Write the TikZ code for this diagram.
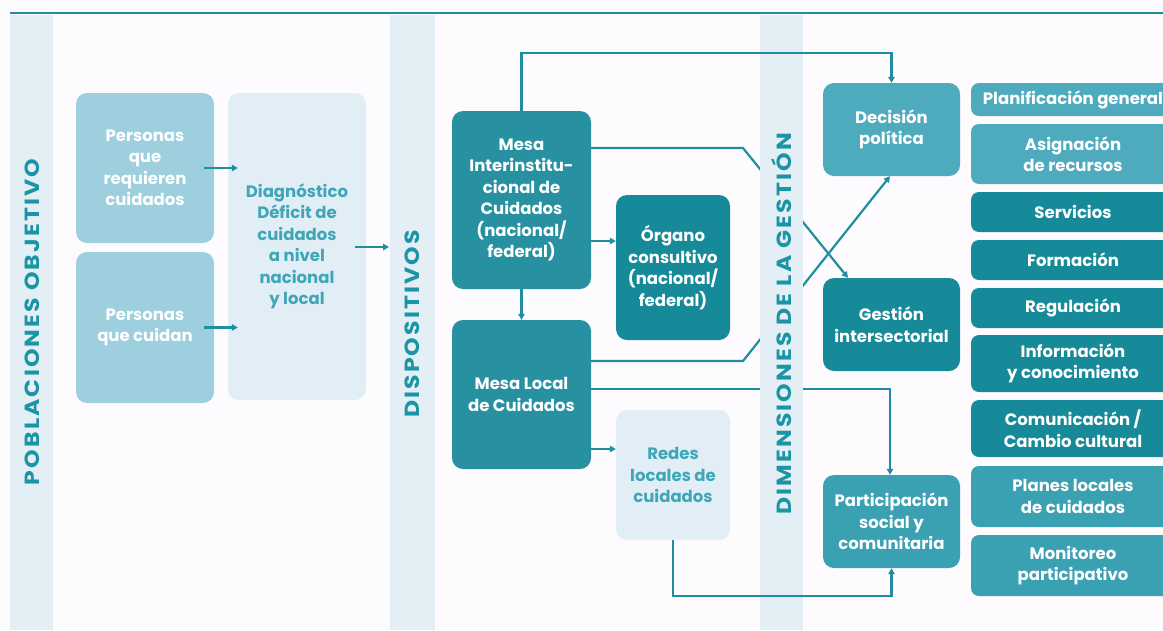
\documentclass[tikz,border=0pt]{standalone}
\usepackage{fontspec}
\usepackage{graphicx}
\setmainfont{Poppins}
\usetikzlibrary{arrows.meta}
\pgfdeclarelayer{bg}
\pgfdeclarelayer{hidden}
\pgfdeclarelayer{band}
\pgfsetlayers{bg,hidden,band,main}
\definecolor{bgwhite}{HTML}{FDFBFD}
\definecolor{bandcol}{HTML}{E4EEF5}
\definecolor{lineteal}{HTML}{1F8FA0}
\definecolor{labteal}{HTML}{1B95A6}
\definecolor{lightblue}{HTML}{9DCFDE}
\definecolor{paleblue}{HTML}{E1EEF5}
\definecolor{paletext}{HTML}{3FA6B8}
\definecolor{mesacol}{HTML}{2791A2}
\definecolor{darkteal}{HTML}{178A99}
\definecolor{midteal}{HTML}{4EABBE}
\definecolor{partteal}{HTML}{3AA1B3}
\newcommand{\vlab}[1]{\scalebox{1.15}[1]{\addfontfeature{LetterSpace=9}#1}}
\tikzset{
  box/.style={rounded corners=11pt, align=center, inner sep=0pt, text=white,
    font=\fontsize{16.5}{21.5}\selectfont\bfseries},
  smallbox/.style={box, rounded corners=8pt, minimum width=204pt},
  conn/.style={draw=lineteal, line width=2.2pt},
  arr/.style={conn, -{Triangle[length=6pt,width=6.5pt]}},
  vlabel/.style={rotate=90, text=labteal, inner sep=0pt, font=\fontsize{20.5}{22}\selectfont\bfseries}
}
\begin{document}
\begin{tikzpicture}[x=1pt,y=-1pt]
\useasboundingbox (0,0) rectangle (1163,630);
\begin{pgfonlayer}{bg}
\fill[bgwhite] (0,0) rectangle (1163,630);
\end{pgfonlayer}
\begin{pgfonlayer}{band}
\fill[bandcol] (10,15) rectangle (53,630);
\fill[bandcol] (390,15) rectangle (435,630);
\fill[bandcol] (760,15) rectangle (803,630);
\node[vlabel] (lab1) at (32,322) {\vlab{POBLACIONES OBJETIVO}};
\node[vlabel] (lab2) at (412,324) {\vlab{DISPOSITIVOS}};
\node[vlabel] (lab3) at (782,324) {\vlab{DIMENSIONES DE LA GESTIÓN}};
\end{pgfonlayer}
\draw[draw=lineteal, line width=2.5pt] (10,13) -- (1163,13);

% left column
\node[box, fill=lightblue, minimum width=138pt, minimum height=150pt] (p1) at (145,168) {Personas\\que\\requieren\\cuidados};
\node[box, fill=lightblue, minimum width=138pt, minimum height=151pt] (p2) at (145,327.5) {Personas\\que cuidan};
\node[box, fill=paleblue, text=paletext, minimum width=138pt, minimum height=307pt] (diag) at (297,246.5) {Diagnóstico\\Déficit de\\cuidados\\a nivel\\nacional\\y local};

% middle column
\node[box, fill=mesacol, minimum width=139pt, minimum height=178pt] (mesaI) at (521.5,200) {Mesa\\Interinstitu-\\cional de\\Cuidados\\(nacional/\\federal)};
\node[box, fill=mesacol, minimum width=139pt, minimum height=149pt] (mesaL) at (521.5,394.5) {Mesa Local\\de Cuidados};
\node[box, fill=darkteal, minimum width=114pt, minimum height=145pt] (organo) at (673,267.5) {Órgano\\consultivo\\(nacional/\\federal)};
\node[box, fill=paleblue, text=paletext, minimum width=114pt, minimum height=130pt] (redes) at (673,475) {Redes\\locales de\\cuidados};

% dimensions
\node[box, fill=midteal, minimum width=137pt, minimum height=93pt] (dec) at (891.5,129.5) {Decisión\\política};
\node[box, fill=darkteal, minimum width=137pt, minimum height=93pt] (ges) at (891.5,324.5) {Gestión\\intersectorial};
\node[box, fill=partteal, minimum width=137pt, minimum height=93pt] (par) at (891.5,521.5) {Participación\\social y\\comunitaria};

% right column
\node[smallbox, fill=midteal, minimum height=33pt] (plan) at (1073,99.5) {Planificación general};
\node[smallbox, fill=midteal, minimum height=60pt] (asig) at (1073,154) {Asignación\\de recursos};
\node[smallbox, fill=darkteal, minimum height=40pt] (serv) at (1073,212) {Servicios};
\node[smallbox, fill=darkteal, minimum height=40pt] (form) at (1073,260) {Formación};
\node[smallbox, fill=darkteal, minimum height=40pt] (regu) at (1073,308) {Regulación};
\node[smallbox, fill=darkteal, minimum height=57pt] (info) at (1073,363.5) {Información\\y conocimiento};
\node[smallbox, fill=darkteal, minimum height=57pt] (comu) at (1073,428.5) {Comunicación /\\Cambio cultural};
\node[smallbox, fill=partteal, minimum height=61pt] (plane) at (1073,496.5) {Planes locales\\de cuidados};
\node[smallbox, fill=partteal, minimum height=61pt] (moni) at (1073,565.5) {Monitoreo\\participativo};

% connectors
\coordinate (dispin) at (389,247);
\coordinate (a1) at ([xshift=-8pt,yshift=-41pt]mesaI.east);
\coordinate (a2) at ([xshift=-8pt,yshift=-54.5pt]mesaL.east);
\draw[arr] ([xshift=-10pt]p1.east) -- ([xshift=10pt]diag.west |- p1.east);
\draw[arr] ([xshift=-10pt]p2.east) -- ([xshift=10pt]diag.west |- p2.east);
\draw[arr] ([xshift=-11pt]diag.east |- dispin) -- (dispin);
\draw[arr] (mesaI.south) -- (mesaL.north);
\draw[arr] (a1) -- (organo.west |- a1);
\draw[arr] (a2) -- (redes.west |- a2);
\draw[arr] (mesaI.north) -- ++(0,-58) -| (dec.north);
\draw[arr] (redes.south) -- ++(0,56) -| (par.south);
\begin{pgfonlayer}{hidden}
\coordinate (k1) at (743,148);
\coordinate (k2) at (743,361);
\draw[arr] ([yshift=52pt]mesaI.east) -- (k1) -- ([xshift=-43.5pt]ges.north);
\draw[arr] ([yshift=33.5pt]mesaL.east) -- (k2) -- ([xshift=-1.5pt]dec.south);
\draw[arr] ([yshift=5.5pt]mesaL.east) -| ([xshift=-1.5pt]par.north);
\end{pgfonlayer}
\end{tikzpicture}
\end{document}
